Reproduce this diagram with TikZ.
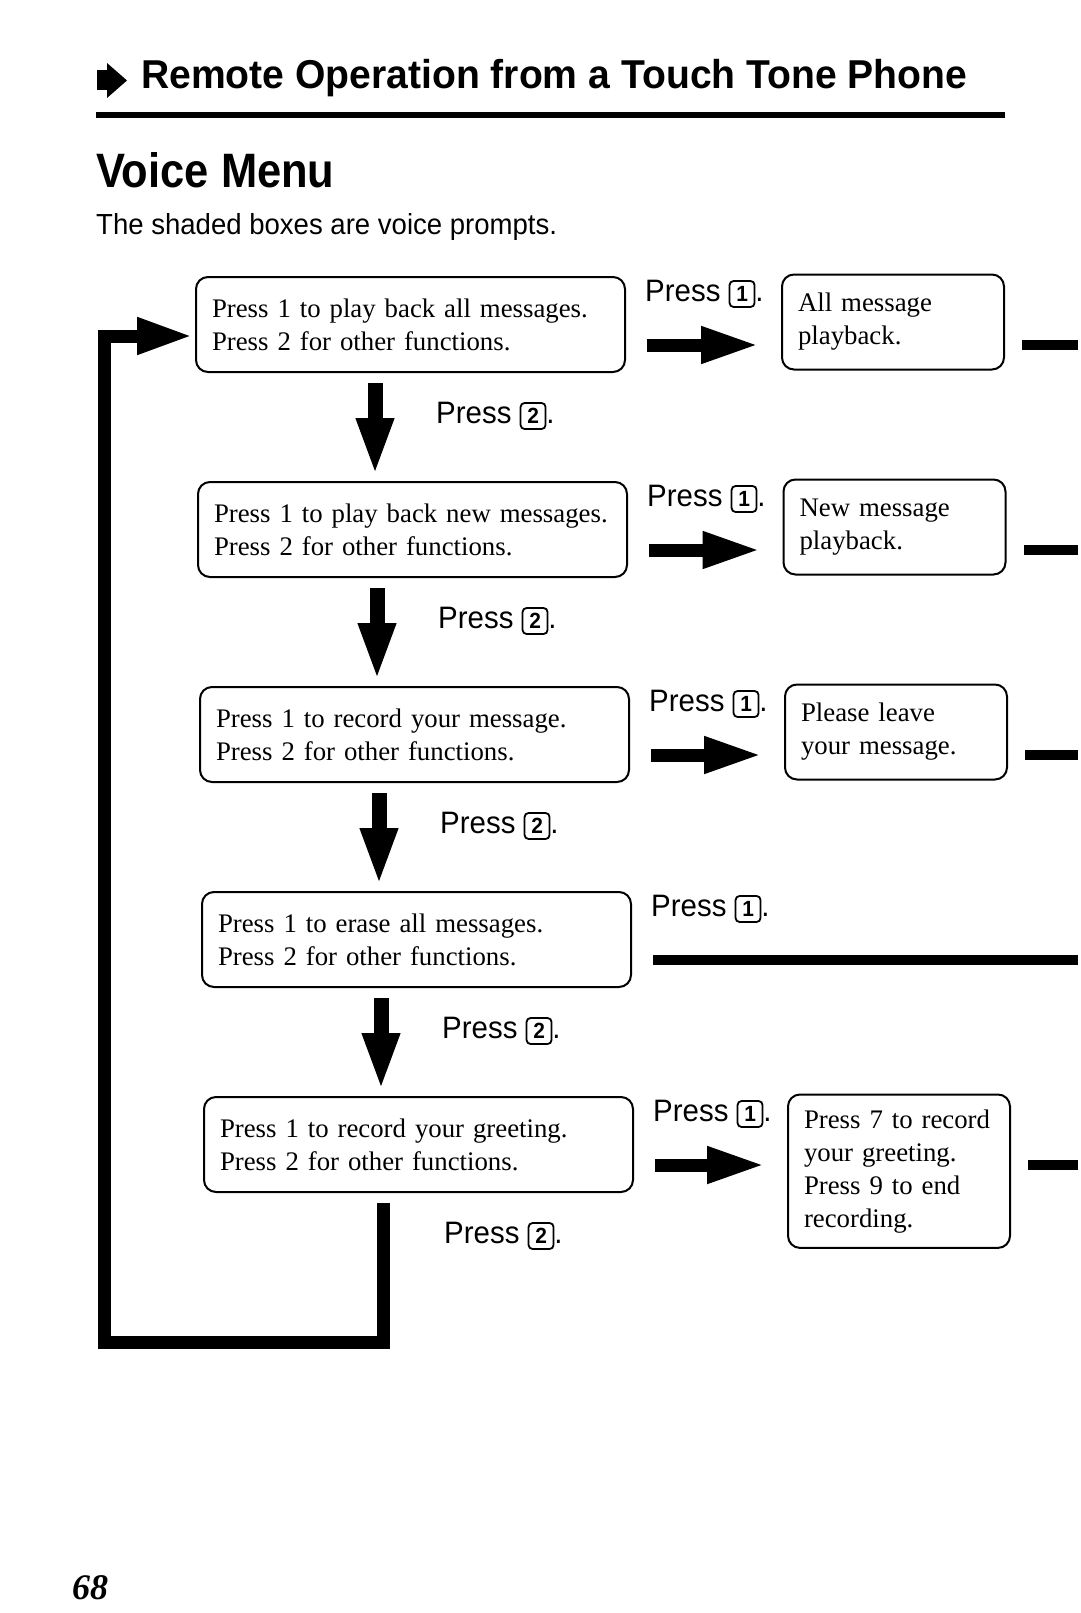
\documentclass[tikz,border=0pt]{standalone}
\usepackage{fontspec}
\setmainfont{Liberation Serif}
\newfontfamily\titlefont[FakeStretch=0.97]{Liberation Sans}
\newfontfamily\headfont[FakeStretch=0.9]{Liberation Sans}
\newfontfamily\labelfont[FakeStretch=0.95]{Liberation Sans}
\usetikzlibrary{arrows.meta,positioning}
\tikzstyle{menubox}=[
    draw=black,
    line width=2pt,
    rounded corners=12pt,
    anchor=north west,
    inner xsep=16pt,
    inner ysep=0pt,
    text width=397pt,
    minimum height=95pt,
    align=left,
    font=\fontsize{26.8}{33}\selectfont
]
\tikzstyle{promptbox}=[
    menubox,
    inner xsep=16pt,
    inner ysep=15pt,
    text width=190pt
]
\tikzstyle{presslbl}=[
    anchor=west,
    inner sep=0pt,
    font=\labelfont\fontsize{31}{36}\selectfont
]
\tikzstyle{keybox}=[
    draw=black,
    line width=1.8pt,
    rounded corners=4pt,
    inner sep=0pt,
    minimum width=25pt,
    minimum height=26pt,
    font=\labelfont\bfseries\fontsize{22}{24}\selectfont
]
\tikzstyle{downarrow}=[
    line width=15pt,
    -{Triangle[length=58pt,width=34pt]}
]
\tikzstyle{rightarrow}=[
    line width=13pt,
    -{Triangle[length=58pt,width=34pt]}
]
\tikzstyle{stub}=[
    line width=10pt
]
\tikzstyle{loopline}=[
    line width=13pt,
    line join=miter,
    -{Triangle[length=56pt,width=34pt]}
]
\newcommand{\keycap}[1]{\tikz[baseline=(k.base)]\node[keybox] (k) {#1};}

\begin{document}
\begin{tikzpicture}[x=1pt, y=-1pt]
\useasboundingbox (0,0) rectangle (1080,1613);

% heading
\fill (97,70) rectangle (108,90);
\fill (107,63) -- (127,80.5) -- (107,98) -- cycle;
\node[anchor=base west, inner sep=0pt, font=\titlefont\bfseries\fontsize{40.3}{44}\selectfont]
    (title) at (141,89) {Remote Operation from a Touch Tone Phone};
\fill (96,112) rectangle (1005,118);
\node[anchor=base west, inner sep=0pt, font=\headfont\bfseries\fontsize{48.3}{52}\selectfont]
    (menu) at (96,188) {Voice Menu};
\node[anchor=base west, inner sep=0pt, font=\labelfont\fontsize{29}{34}\selectfont]
    (note) at (96,235) {The shaded boxes are voice prompts.};

\coordinate (edge) at (1078,0);

% menu boxes
\foreach \i/\lineA in {1/{Press 1 to play back all messages.},
                       2/{Press 1 to play back new messages.},
                       3/{Press 1 to record your message.},
                       4/{Press 1 to erase all messages.},
                       5/{Press 1 to record your greeting.}}{
    \pgfmathsetmacro{\ty}{276+205*(\i-1)}
    \pgfmathsetmacro{\lx}{195+2*(\i-1)}
    \node[menubox] (m\i) at (\lx,\ty) {\lineA\\Press 2 for other functions.};
    \node[presslbl] (a\i) at ([xshift=19pt,yshift=-18pt]m\i.north east) {Press \keycap{1}.};
    \node[presslbl] (b\i) at ([xshift=241pt,yshift=-43pt]m\i.south west) {Press \keycap{2}.};
    \coordinate (s\i) at ([xshift=21pt,yshift=-69pt]m\i.north east);
    \coordinate (d\i) at ([xshift=180pt,yshift=-10pt]m\i.south west);
}

% prompt boxes
\foreach \i/\txt in {1/{All message\\playback.},
                     2/{New message\\playback.},
                     3/{Please leave\\your message.},
                     5/{Press 7 to record\\your greeting.\\Press 9 to end\\recording.}}{
    \pgfmathsetmacro{\ty}{273.5+205*(\i-1)}
    \pgfmathsetmacro{\rx}{781+1.5*(\i-1)}
    \node[promptbox] (r\i) at (\rx,\ty) {\txt};
    \coordinate (t\i) at ([xshift=-22pt]r\i.west);
    \coordinate (u\i) at ([xshift=17pt]r\i.east);
    \draw[rightarrow] (s\i) -- (t\i |- s\i);
    \draw[stub] (u\i |- s\i) -- (edge |- s\i);
}
\draw[line width=10pt] (s4) -- (edge |- s4);

% down arrows
\foreach \i/\j in {1/2, 2/3, 3/4, 4/5}{
    \coordinate (n\j) at ([yshift=5pt]m\j.north west);
    \draw[downarrow] (d\i) -- (d\i |- n\j);
}

% back to the top
\coordinate (lb) at (104,1342);
\coordinate (li) at ([xshift=-2pt,yshift=-11.5pt]m1.west);
\draw[loopline] (d5) -- (d5 |- lb) -- (lb) -- (lb |- li) -- (li);

\node[anchor=base west, inner sep=0pt, font=\bfseries\itshape\fontsize{36}{40}\selectfont]
    (page) at (72,1599) {68};
\end{tikzpicture}
\end{document}
